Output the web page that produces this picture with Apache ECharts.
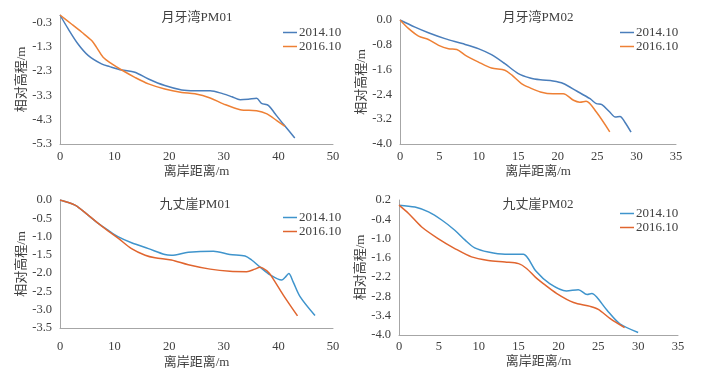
<!DOCTYPE html>
<html><head><meta charset="utf-8">
<script src="https://cdn.jsdelivr.net/npm/echarts@6/dist/echarts.min.js"></script>
<style>html,body{margin:0;padding:0;background:#fff}#c{width:706px;height:376px}</style>
</head><body><div id="c"></div>
<script>
// ---- data ----
const titles = ['月牙湾PM01', '月牙湾PM02', '九丈崖PM01', '九丈崖PM02'];
const seriesNames = ['2014.10', '2016.10'];
const xAxisName = '离岸距离/m';
const yAxisName = '相对高程/m';

const yTicks1 = [-5.3, -4.3, -3.3, -2.3, -1.3, -0.3];
const yTicks2 = [-4.0, -3.2, -2.4, -1.6, -0.8, 0.0];
const yTicks3 = [-3.5, -3.0, -2.5, -2.0, -1.5, -1.0, -0.5, 0.0];
const yTicks4 = [-4.0, -3.4, -2.8, -2.2, -1.6, -1.0, -0.4, 0.2];

const p1_2014_x = [0, 1.5, 3.3, 5.2, 7.6, 9.1, 11.3, 13.7, 16.2, 19.2, 22.3, 24.7, 27.5, 29.9, 31.5, 33, 34.5, 36, 36.9, 38.2, 39.4, 40.9, 43];
const p1_2014_y = [0, -0.57, -1.19, -1.67, -2.01, -2.12, -2.26, -2.35, -2.63, -2.9, -3.08, -3.11, -3.11, -3.24, -3.36, -3.48, -3.46, -3.42, -3.63, -3.72, -4.06, -4.48, -5.05];
const p1_2016_x = [0, 2.1, 4.0, 5.8, 6.7, 7.9, 9.5, 11.3, 13.7, 16.2, 19.2, 22.3, 24.7, 27.5, 29.9, 33, 36, 37.9, 39.7, 41.2];
const p1_2016_y = [0, -0.37, -0.71, -1.05, -1.33, -1.74, -2.01, -2.26, -2.56, -2.83, -3.04, -3.18, -3.24, -3.41, -3.65, -3.89, -3.93, -4.06, -4.34, -4.58];

const p2_2014_x = [0, 1.9, 3.6, 5.7, 7.9, 10, 11.6, 13.3, 15, 16.5, 17.8, 19.4, 20.7, 22.4, 24.1, 24.9, 25.6, 26.6, 27.3, 27.9, 28.5, 29.3];
const p2_2014_y = [0, -0.23, -0.41, -0.6, -0.76, -0.93, -1.12, -1.41, -1.73, -1.87, -1.93, -1.97, -2.05, -2.29, -2.54, -2.7, -2.73, -2.97, -3.13, -3.11, -3.29, -3.62];
const p2_2016_x = [0, 1.1, 2.35, 3.6, 4.9, 6.15, 7.2, 8.3, 9.9, 11.6, 13.3, 14.2, 15.4, 16.5, 17.8, 19.4, 20.7, 22, 22.8, 23.6, 24.9, 26.6];
const p2_2016_y = [0, -0.28, -0.52, -0.63, -0.82, -0.93, -0.95, -1.14, -1.35, -1.55, -1.62, -1.78, -2.05, -2.19, -2.32, -2.38, -2.38, -2.59, -2.65, -2.62, -2.97, -3.61];

const p3_2014_x = [0, 2.75, 5.2, 7, 8.85, 10.7, 13.1, 16.2, 19.2, 20.4, 23.5, 28.1, 31.1, 33.9, 35.1, 36.6, 38.5, 40.6, 41.2, 41.9, 42.7, 44, 46.7];
const p3_2014_y = [0, -0.14, -0.42, -0.64, -0.83, -1.01, -1.17, -1.33, -1.49, -1.51, -1.43, -1.4, -1.49, -1.53, -1.64, -1.83, -2.05, -2.19, -2.12, -2.01, -2.24, -2.65, -3.16];
const p3_2016_x = [0, 2.75, 5.2, 7, 8.85, 10.7, 13.1, 15.6, 17.4, 20.4, 23.5, 27.5, 31.1, 34.2, 35.7, 36.6, 37.9, 38.8, 40.9, 43.5];
const p3_2016_y = [0, -0.14, -0.42, -0.64, -0.85, -1.05, -1.33, -1.51, -1.58, -1.64, -1.77, -1.89, -1.95, -1.96, -1.89, -1.84, -1.94, -2.1, -2.6, -3.17];

const p4_2014_x = [0, 2, 3.7, 5.4, 7, 8.3, 9.5, 11.2, 13.3, 15.6, 16.2, 17.2, 18.9, 21, 22.5, 23.6, 24.2, 24.8, 26.1, 27.7, 30];
const p4_2014_y = [0.04, -0.02, -0.17, -0.43, -0.74, -1.05, -1.29, -1.42, -1.49, -1.49, -1.62, -2.02, -2.4, -2.63, -2.59, -2.74, -2.71, -2.82, -3.23, -3.65, -3.92];
const p4_2016_x = [0, 1.2, 2.85, 4.9, 7, 9.1, 11.2, 13.3, 15, 16, 17.1, 18.1, 19.8, 21.9, 24, 25, 26.5, 28.3];
const p4_2016_y = [0.04, -0.22, -0.64, -1.0, -1.31, -1.57, -1.68, -1.73, -1.78, -1.93, -2.2, -2.4, -2.71, -2.99, -3.11, -3.2, -3.49, -3.77];

// ---- chart ----
const zip = (xs, ys) => xs.map((x, i) => [x, ys[i]]);
const FONT = "'Liberation Serif', 'Noto Sans CJK SC', serif";
const TXT = '#404040';
const AXIS = '#a6a6a6';

const panels = [
  {grid: {left: 60, top: 15, width: 273, height: 129}, xmax: 50, xint: 10, ymin: -5.3, ymax: 0, ticks: yTicks1,
   title: [197, 11], legend: [283, 26], xLabelMargin: 6, xNameGap: 21,
   data: [zip(p1_2014_x, p1_2014_y), zip(p1_2016_x, p1_2016_y)], colors: ['#4a7ebb', '#ee8035']},
  {grid: {left: 400, top: 20, width: 276, height: 124}, xmax: 35, xint: 5, ymin: -4.0, ymax: 0, ticks: yTicks2,
   title: [538, 11], legend: [620, 26], xLabelMargin: 6, xNameGap: 21,
   data: [zip(p2_2014_x, p2_2014_y), zip(p2_2016_x, p2_2016_y)], colors: ['#4a7ebb', '#ee8035']},
  {grid: {left: 60, top: 200, width: 273, height: 128}, xmax: 50, xint: 10, ymin: -3.5, ymax: 0, ticks: yTicks3,
   title: [195, 198], legend: [283, 211], xLabelMargin: 12, xNameGap: 28,
   data: [zip(p3_2014_x, p3_2014_y), zip(p3_2016_x, p3_2016_y)], colors: ['#3f94cc', '#e0652f']},
  {grid: {left: 399, top: 200, width: 279, height: 135}, xmax: 35, xint: 5, ymin: -4.0, ymax: 0.2, ticks: yTicks4,
   title: [538, 198], legend: [620, 207], xLabelMargin: 5, xNameGap: 20,
   data: [zip(p4_2014_x, p4_2014_y), zip(p4_2016_x, p4_2016_y)], colors: ['#3f94cc', '#e0652f']}
];

const option = {
  animation: false,
  backgroundColor: '#fff',
  textStyle: {fontFamily: FONT},
  title: panels.map((p, i) => ({
    text: titles[i], left: p.title[0], top: p.title[1], textAlign: 'center', padding: 0,
    textStyle: {fontFamily: FONT, fontSize: 13, fontWeight: 'normal', color: TXT}
  })),
  legend: panels.map((p, i) => ({
    orient: 'vertical', left: p.legend[0], top: p.legend[1], padding: 0,
    itemWidth: 14, itemHeight: 13, itemGap: 1,
    data: seriesNames.map((n, k) => ({name: n, icon: 'path://M0,6 L14,6 L14,7.5 L0,7.5 Z', itemStyle: {color: p.colors[k]}})),
    selectedMode: false,
    textStyle: {fontFamily: FONT, fontSize: 13, color: TXT, padding: [0, 0, 0, -3]}
  })),
  grid: panels.map(p => p.grid),
  xAxis: panels.map((p, i) => ({
    gridIndex: i, type: 'value', min: 0, max: p.xmax, interval: p.xint, position: 'bottom',
    name: xAxisName, nameLocation: 'middle', nameGap: p.xNameGap,
    nameTextStyle: {fontFamily: FONT, fontSize: 13, color: TXT},
    axisLine: {show: true, onZero: false, lineStyle: {color: AXIS, width: 1}},
    axisTick: {show: false}, splitLine: {show: false},
    axisLabel: {fontFamily: FONT, fontSize: 12.5, color: TXT, margin: p.xLabelMargin}
  })),
  yAxis: panels.map((p, i) => ({
    gridIndex: i, type: 'value', min: p.ymin, max: p.ymax, position: 'left',
    name: yAxisName, nameLocation: 'middle', nameGap: 31, nameRotate: 90,
    nameTextStyle: {fontFamily: FONT, fontSize: 13, color: TXT},
    axisLine: {show: true, onZero: false, lineStyle: {color: AXIS, width: 1}},
    axisTick: {show: false}, splitLine: {show: false},
    axisLabel: {customValues: p.ticks, fontFamily: FONT, fontSize: 12.5, color: TXT, margin: 8,
      formatter: v => Number(v).toFixed(1)}
  })),
  series: panels.flatMap((p, i) => seriesNames.map((n, k) => ({
    name: n, type: 'line', xAxisIndex: i, yAxisIndex: i,
    data: p.data[k], symbol: 'none', smooth: 0.3,
    lineStyle: {color: p.colors[k], width: 1.5}, itemStyle: {color: p.colors[k]}
  })))
};

const chart = echarts.init(document.getElementById('c'), null, {renderer: 'canvas'});
chart.setOption(option);
</script></body></html>
